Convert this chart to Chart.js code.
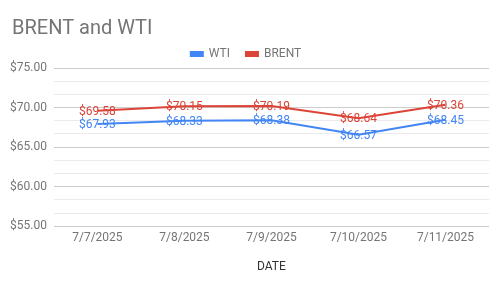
<!DOCTYPE html>
<html>
<head>
<meta charset="utf-8">
<script src="https://cdn.jsdelivr.net/npm/chart.js@4/dist/chart.umd.min.js"></script>
<style>
    html, body { margin: 0; padding: 0; background: #fff; }
    #wrap { width: 503px; height: 282px; position: relative; }
</style>
</head>
<body>
<div id="wrap"><canvas id="myChart"></canvas></div>
<script>
const dates = ["7/7/2025", "7/8/2025", "7/9/2025", "7/10/2025", "7/11/2025"]
const wti = [67.93, 68.33, 68.38, 66.57, 68.45]
const brent = [69.58, 70.15, 70.19, 68.64, 70.36]
const yMin = 55
const yMax = 75

const blue = "#4285f4"
const red = "#db4437"
const grey = "#757575"

function money(v) {
    return "$" + v.toFixed(2)
}

function isMajor(v) {
    return Math.abs(v / 5 - Math.round(v / 5)) < 1e-6
}

// etiquetas de valor sobre cada punto
const pointLabels = {
    id: "pointLabels",
    afterDatasetsDraw(chart) {
        const ctx = chart.ctx
        ctx.save()
        ctx.font = "12px Roboto"
        ctx.textAlign = "center"
        ctx.textBaseline = "middle"
        chart.data.datasets.forEach((ds, i) => {
            const meta = chart.getDatasetMeta(i)
            ctx.fillStyle = ds.borderColor
            meta.data.forEach((pt, j) => {
                ctx.fillText(money(ds.data[j]), pt.x, pt.y + 1)
            })
        })
        ctx.restore()
    },
}

// ajustes de la leyenda y titulo corrido a la derecha
const layoutTweaks = {
    id: "layoutTweaks",
    beforeInit(chart) {
        const fit = chart.legend.fit
        chart.legend.fit = function () {
            fit.call(this)
            this.height -= 2
        }
    },
    afterLayout(chart) {
        chart.titleBlock.left += 9
        chart.titleBlock.right += 9
    },
}

const canvasChart = document.getElementById("myChart").getContext("2d")
new Chart(canvasChart, {
    type: "line",
    data: {
        labels: dates,
        datasets: [
            { label: "WTI", data: wti, borderColor: blue, backgroundColor: blue, borderWidth: 2, pointRadius: 0, tension: 0 },
            { label: "BRENT", data: brent, borderColor: red, backgroundColor: red, borderWidth: 2, pointRadius: 0, tension: 0 },
        ],
    },
    options: {
        responsive: true,
        maintainAspectRatio: false,
        animation: false,
        layout: { padding: { left: 3, right: 14, top: 0, bottom: 4 } },
        plugins: {
            title: {
                display: true,
                text: "BRENT and WTI",
                align: "start",
                color: grey,
                font: { family: "Roboto", size: 20, weight: "normal" },
                padding: { top: 17, bottom: -9 },
            },
            legend: {
                position: "top",
                labels: {
                    color: grey,
                    font: { family: "Roboto", size: 12 },
                    boxWidth: 12,
                    boxHeight: 4,
                    padding: 16,
                },
            },
            tooltip: { enabled: false },
        },
        scales: {
            x: {
                offset: true,
                grid: { display: false, drawTicks: false },
                border: { display: false },
                ticks: { color: grey, padding: 5, font: { family: "Roboto", size: 12 }, maxRotation: 0 },
                title: {
                    display: true,
                    text: "DATE",
                    color: "#333",
                    font: { family: "Roboto", size: 12 },
                    padding: { top: 9 },
                },
            },
            y: {
                min: yMin,
                max: yMax,
                border: { display: false },
                grid: {
                    color: (c) => (isMajor(c.tick.value) ? "#cccccc" : "#ebebeb"),
                    drawTicks: false,
                },
                ticks: {
                    stepSize: 5 / 3,
                    autoSkip: false,
                    color: grey,
                    padding: 7,
                    font: { family: "Roboto", size: 12 },
                    callback: (v) => (isMajor(v) ? money(v) : ""),
                },
            },
        },
    },
    plugins: [pointLabels, layoutTweaks],
})
</script>
</body>
</html>
